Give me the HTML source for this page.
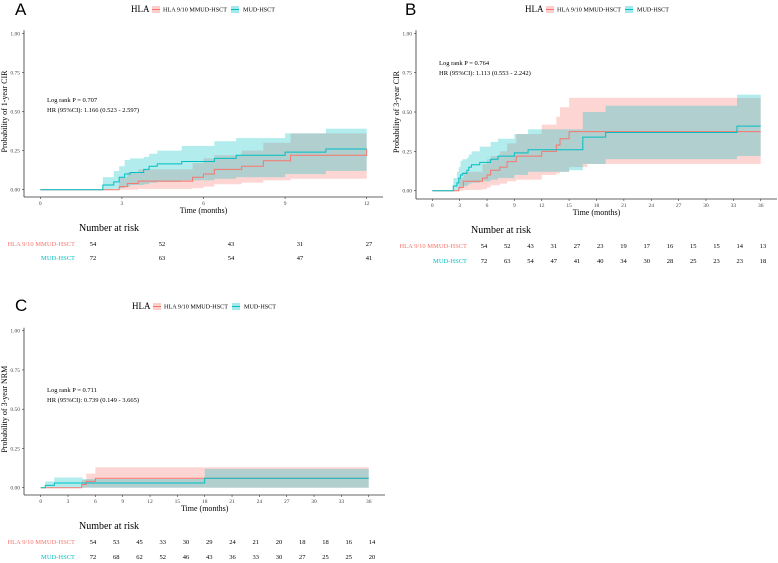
<!DOCTYPE html>
<html><head><meta charset="utf-8"><style>
html,body{margin:0;padding:0;background:#fff;}
svg{display:block;font-family:"Liberation Serif",serif;}
.pl{font-family:"Liberation Sans","DejaVu Sans",sans-serif;font-size:17px;fill:#000;}
</style></head><body>
<svg id="s" width="778" height="563" viewBox="0 0 778 563"></svg>
<script>
// ---- Panel A data (1-year CIR) ----
const aRedT=[2.9,3.2,3.6,5.6,6.0,6.4,7.4,8.2,9.2,12.0];
const aRedE=[0.02,0.04,0.055,0.08,0.10,0.13,0.15,0.185,0.22,0.26];
const aRedL=[0.0,0.0,0.005,0.01,0.02,0.035,0.045,0.06,0.07,0.10];
const aRedU=[0.08,0.11,0.13,0.17,0.2,0.22,0.25,0.3,0.36,0.41];
const aBluT=[2.3,2.7,2.9,3.1,3.3,3.8,4.0,4.3,5.2,6.4,7.2,9.0,10.5];
const aBluE=[0.03,0.05,0.08,0.10,0.11,0.13,0.15,0.165,0.18,0.20,0.22,0.24,0.26];
const aBluL=[0.0,0.005,0.01,0.02,0.03,0.035,0.045,0.05,0.06,0.07,0.08,0.10,0.12];
const aBluU=[0.08,0.12,0.15,0.19,0.2,0.21,0.23,0.25,0.28,0.31,0.33,0.36,0.39];
const aRisk=[[54,52,43,31,27],[72,63,54,47,41]];
const aTicks=[0,3,6,9,12];
// ---- Panel B data (3-year CIR) ----
const bRedT=[2.9,3.4,5.5,6.0,6.4,7.4,8.2,9.2,12.0,13.6,14.0,15.0,17.0];
const bRedE=[0.02,0.06,0.08,0.10,0.13,0.15,0.185,0.22,0.25,0.29,0.33,0.375,0.375];
const bRedL=[0.0,0.005,0.01,0.02,0.035,0.045,0.06,0.07,0.10,0.11,0.12,0.15,0.17];
const bRedU=[0.08,0.12,0.17,0.2,0.22,0.25,0.3,0.36,0.42,0.47,0.53,0.59,0.59];
const bBluT=[2.3,2.7,2.9,3.1,3.3,3.8,4.0,4.3,5.2,6.4,7.2,9.0,10.5,15.0,16.5,19.0,33.4];
const bBluE=[0.03,0.05,0.08,0.10,0.11,0.13,0.15,0.165,0.18,0.20,0.22,0.24,0.26,0.26,0.34,0.37,0.41];
const bBluL=[0.0,0.005,0.01,0.02,0.03,0.035,0.045,0.05,0.06,0.07,0.08,0.10,0.12,0.13,0.17,0.2,0.22];
const bBluU=[0.08,0.12,0.15,0.19,0.2,0.21,0.23,0.25,0.28,0.31,0.33,0.36,0.39,0.39,0.50,0.54,0.61];
const bRisk=[[54,52,43,31,27,23,19,17,16,15,15,14,13],[72,63,54,47,41,40,34,30,28,25,23,23,18]];
const bTicks=[0,3,6,9,12,15,18,21,24,27,30,33,36];
// ---- Panel C data (3-year NRM) ----
const cRedT=[4.5,5.0,6.0];
const cRedE=[0.02,0.04,0.06];
const cRedL=[0.0,0.0,0.0];
const cRedU=[0.05,0.09,0.13];
const cBluT=[0.5,1.5,4.6,18.0];
const cBluE=[0.015,0.03,0.03,0.06];
const cBluL=[0.0,0.0,0.0,0.0];
const cBluU=[0.04,0.065,0.055,0.12];
const cRisk=[[54,53,45,33,30,29,24,21,20,18,18,16,14],[72,68,62,52,46,43,36,33,30,27,25,25,20]];
const cTicks=[0,3,6,9,12,15,18,21,24,27,30,33,36];
const yTicks=[0,0.25,0.5,0.75,1.0];
const RED="#F8766D",BLU="#00BFC4";
const NS="http://www.w3.org/2000/svg";
const svg=document.getElementById('s');
function mk(tag,at,parent,txt){const e=document.createElementNS(NS,tag);for(const k in at)e.setAttribute(k,at[k]);if(txt!==undefined)e.textContent=txt;(parent||svg).appendChild(e);return e;}

function panel(P){
  const g=mk('g',{});
  
  
  const xs=t=>P.x0+(t/P.tmax)*(P.x1-P.x0);
  const ys=v=>P.y0-v*(P.y0-P.y1);
  const lab=mk('text',{x:P.lx,y:P.ly,class:'pl'},g,P.letter);
  
  
  // legend
  const lg=mk('g',{},g);
  
  
  const L=P.legX,LY=P.legY;
  mk('text',{x:L,y:LY+3,'font-size':9},lg,'HLA');
  mk('rect',{x:L+21,y:LY-3,width:8,height:7,fill:RED,'fill-opacity':0.35},lg);
  mk('line',{x1:L+21,x2:L+29,y1:LY+0.5,y2:LY+0.5,stroke:RED,'stroke-width':1},lg);
  mk('text',{x:L+32,y:LY+2.5,'font-size':6,textLength:64,lengthAdjust:'spacingAndGlyphs'},lg,'HLA 9/10 MMUD-HSCT');
  mk('rect',{x:L+100,y:LY-3,width:8,height:7,fill:BLU,'fill-opacity':0.35},lg);
  mk('line',{x1:L+100,x2:L+108,y1:LY+0.5,y2:LY+0.5,stroke:BLU,'stroke-width':1},lg);
  mk('text',{x:L+112,y:LY+2.5,'font-size':6,textLength:32,lengthAdjust:'spacingAndGlyphs'},lg,'MUD-HSCT');
  // bands and lines
  const series=[[P.rT,P.rE,P.rL,P.rU,RED,'mmud'],[P.bT,P.bE,P.bL,P.bU,BLU,'mud']];
  series.forEach(s=>{
    const [T,E,Lo,Up,col,nm]=s;
    for(let i=0;i<T.length;i++){
      const t0=T[i],t1=(i+1<T.length?T[i+1]:P.tend);
      if(t1<=t0)continue;
      const r=mk('rect',{x:xs(t0),y:ys(Up[i]),width:xs(t1)-xs(t0),height:Math.max(0.5,ys(Lo[i])-ys(Up[i])),fill:col,'fill-opacity':0.3},g);
      
      
    }
  });
  series.forEach(s=>{
    const [T,E,Lo,Up,col,nm]=s;
    let d='M'+xs(0)+','+ys(0);
    for(let i=0;i<T.length;i++){d+=' H'+xs(T[i])+' V'+ys(E[i]);}
    d+=' H'+xs(P.tend);
    const p=mk('path',{d:d,fill:'none',stroke:col,'stroke-width':1},g);
    
    
  });
  // axes
  mk('line',{x1:P.ax,x2:P.ax,y1:P.y1-3,y2:P.axY,stroke:'#333','stroke-width':0.8},g);
  mk('line',{x1:P.ax,x2:P.axR,y1:P.axY,y2:P.axY,stroke:'#333','stroke-width':0.8},g);
  yTicks.forEach(v=>{
    mk('line',{x1:P.ax-2,x2:P.ax,y1:ys(v),y2:ys(v),stroke:'#333','stroke-width':0.6},g);
    const t=mk('text',{x:P.ax-4,y:ys(v)+2,'font-size':5.5,'text-anchor':'end',fill:'#444'},g,v.toFixed(2));
    
    
  });
  P.ticks.forEach(v=>{
    mk('line',{x1:xs(v),x2:xs(v),y1:P.axY,y2:P.axY+2,stroke:'#333','stroke-width':0.6},g);
    const t=mk('text',{x:xs(v),y:P.axY+8,'font-size':5.5,'text-anchor':'middle',fill:'#444'},g,String(v));
    
    
  });
  const xt=mk('text',{x:(P.x0+P.x1)/2,y:P.axY+16,'font-size':8,'text-anchor':'middle'},g,'Time (months)');
  
  
  const yt=mk('text',{x:0,y:0,'font-size':8,'text-anchor':'middle',transform:'translate('+(P.ax-17)+','+((P.y0+P.y1)/2)+') rotate(-90)'},g,P.ytitle);
  
  
  // annotations
  mk('text',{x:P.annX,y:P.annY,'font-size':6.5},g,P.ann1);
  mk('text',{x:P.annX,y:P.annY+10,'font-size':6.5},g,P.ann2);
  // risk table
  const rt=mk('g',{},g);
  
  
  mk('text',{x:P.nrX,y:P.nrY,'font-size':10},rt,'Number at risk');
  const names=['HLA 9/10 MMUD-HSCT','MUD-HSCT'],cols=[RED,BLU];
  P.risk.forEach((row,ri)=>{
    const yy=P.rY[ri];
    mk('text',{x:P.rlX,y:yy+2,'font-size':6.5,'text-anchor':'end',fill:cols[ri]},rt,names[ri]);
    row.forEach((n,ci)=>{
      const rx=P.rx0+ci*(P.rx1-P.rx0)/(row.length-1);
      mk('text',{x:rx,y:yy+2,'font-size':6.5,'text-anchor':'middle'},rt,String(n));
    });
  });
}

panel({name:'panel-a-1yr-cir',letter:'A',lx:15,ly:15,legX:131,legY:9,
 x0:40.3,x1:366.7,tmax:12,tend:12,y0:189.7,y1:33.3,ax:24,axR:383,axY:197,ticks:aTicks,
 ytitle:'Probability of 1-year CIR',annX:47,annY:102,ann1:'Log rank P = 0.707',ann2:'HR (95%CI): 1.166 (0.523 - 2.597)',
 rT:aRedT,rE:aRedE,rL:aRedL,rU:aRedU,bT:aBluT,bE:aBluE,bL:aBluL,bU:aBluU,
 nrX:79,nrY:231,rY:[244,258],rlX:75,rx0:93,rx1:369,risk:aRisk});
panel({name:'panel-b-3yr-cir',letter:'B',lx:405,ly:15,legX:525,legY:9,
 x0:432.3,x1:760.7,tmax:36,tend:36,y0:190.7,y1:33.3,ax:416,axR:777,axY:199,ticks:bTicks,
 ytitle:'Probability of 3-year CIR',annX:439,annY:65,ann1:'Log rank P = 0.764',ann2:'HR (95%CI): 1.113 (0.553 - 2.242)',
 rT:bRedT,rE:bRedE,rL:bRedL,rU:bRedU,bT:bBluT,bE:bBluE,bL:bBluL,bU:bBluU,
 nrX:471,nrY:233,rY:[246,261],rlX:467,rx0:484,rx1:763,risk:bRisk});
panel({name:'panel-c-3yr-nrm',letter:'C',lx:15,ly:311,legX:132,legY:306,
 x0:40.7,x1:368.7,tmax:36,tend:36,y0:487.7,y1:330.7,ax:24,axR:385,axY:495,ticks:cTicks,
 ytitle:'Probability of 3-year NRM',annX:47,annY:392,ann1:'Log rank P = 0.711',ann2:'HR (95%CI): 0.739 (0.149 - 3.665)',
 rT:cRedT,rE:cRedE,rL:cRedL,rU:cRedU,bT:cBluT,bE:cBluE,bL:cBluL,bU:cBluU,
 nrX:79,nrY:529,rY:[542,557],rlX:75,rx0:93,rx1:372,risk:cRisk});
</script>
</body></html>
